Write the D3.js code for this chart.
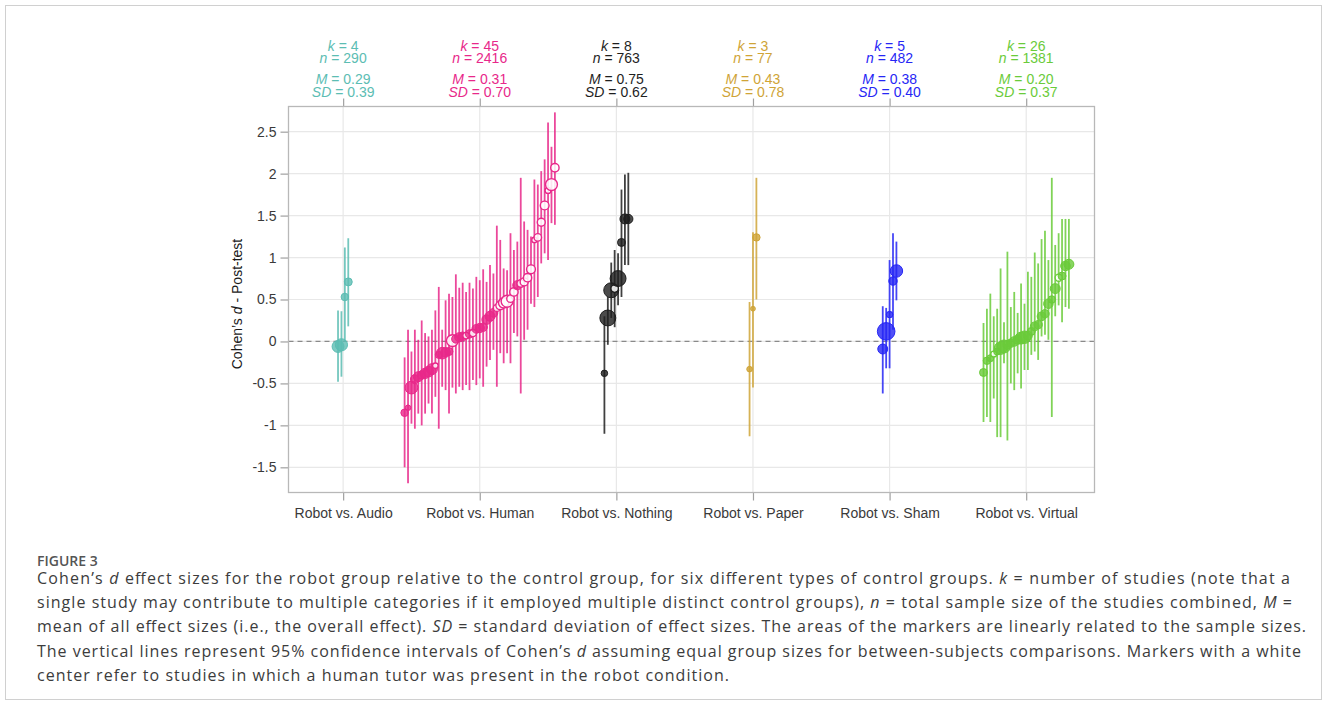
<!DOCTYPE html>
<html>
<head>
<meta charset="utf-8">
<script src="https://cdn.jsdelivr.net/npm/d3@7"></script>
<style>
    body { margin: 0; background: #fff; }
    svg text { font-family: "Liberation Sans", Arial, sans-serif; }
    .caption text { font-family: "Open Sans", sans-serif; }
</style>
</head>
<body>
<svg id="chart" width="1328" height="705"></svg>
<script>
const categories = ["Robot vs. Audio", "Robot vs. Human", "Robot vs. Nothing", "Robot vs. Paper", "Robot vs. Sham", "Robot vs. Virtual"];
const statK = [4, 45, 8, 3, 5, 26];
const statN = [290, 2416, 763, 77, 482, 1381];
const statM = ["0.29", "0.31", "0.75", "0.43", "0.38", "0.20"];
const statSD = ["0.39", "0.70", "0.62", "0.78", "0.40", "0.37"];
const yTicks = [-1.5, -1, -0.5, 0, 0.5, 1, 1.5, 2, 2.5];

// each row: cohen's d, lower CI, upper CI, sample size, human tutor present (1 = white centre)
const audio = [
    [-0.06, -0.48, 0.37, 100, 0], [-0.04, -0.42, 0.36, 105, 0], [0.53, 0.00, 1.12, 40, 0], [0.71, 0.18, 1.23, 45, 0]
];
const human = [
    [-0.85, -1.50, -0.19, 40, 0], [-0.79, -1.69, 0.14, 22, 0], [-0.55, -0.98, -0.12, 115, 0], [-0.45, -1.04, 0.14, 55, 0],
    [-0.42, -0.86, 0.02, 70, 0], [-0.40, -1.00, 0.25, 50, 0], [-0.38, -0.86, 0.10, 75, 0], [-0.36, -0.74, 0.06, 80, 0],
    [-0.33, -0.86, 0.14, 85, 0], [-0.29, -0.66, 0.37, 22, 1], [-0.16, -1.04, 0.65, 35, 0], [-0.14, -0.54, 0.14, 95, 0],
    [-0.13, -0.58, 0.49, 65, 0], [-0.12, -0.86, 0.57, 45, 0], [0.01, -0.55, 0.53, 100, 1], [0.03, -0.62, 0.80, 50, 0],
    [0.05, -0.54, 0.64, 60, 0], [0.06, -0.58, 0.70, 55, 0], [0.07, -0.52, 0.59, 30, 1], [0.09, -0.58, 0.70, 50, 0],
    [0.10, -0.46, 0.63, 35, 1], [0.15, -0.52, 0.77, 55, 0], [0.16, -0.44, 0.73, 60, 0], [0.17, -0.54, 0.86, 50, 0],
    [0.26, -0.30, 0.71, 65, 0], [0.30, -0.22, 0.91, 70, 0], [0.34, -0.10, 0.81, 55, 0], [0.40, -0.54, 1.38, 35, 1],
    [0.43, -0.14, 1.21, 55, 1], [0.46, -0.26, 0.87, 75, 1], [0.48, -0.14, 0.85, 100, 1], [0.51, -0.26, 1.29, 40, 1],
    [0.59, 0.10, 1.09, 50, 1], [0.67, 0.06, 1.19, 60, 0], [0.69, -0.62, 1.95, 40, 1], [0.71, 0.02, 1.43, 45, 1],
    [0.76, 0.14, 1.33, 50, 1], [0.86, 0.45, 1.25, 55, 1], [1.21, 0.41, 1.93, 20, 1], [1.24, 0.53, 1.87, 40, 1],
    [1.42, 0.93, 2.03, 45, 1], [1.62, 1.05, 2.17, 55, 1], [1.80, 0.97, 2.61, 25, 1], [1.87, 1.41, 2.32, 100, 1],
    [2.07, 1.39, 2.73, 50, 1]
];
const nothing = [
    [-0.38, -1.10, 0.30, 30, 0], [0.28, -0.04, 0.53, 180, 0], [0.61, 0.28, 0.94, 160, 0], [0.63, 0.17, 1.09, 40, 1],
    [0.75, 0.43, 1.05, 180, 0], [1.18, 0.53, 1.81, 45, 0], [1.46, 0.91, 1.99, 70, 0], [1.46, 0.91, 2.01, 60, 0]
];
const paper = [
    [-0.33, -1.13, 0.47, 22, 0], [0.39, -0.55, 1.30, 16, 0], [1.24, 0.50, 1.95, 39, 0]
];
const sham = [
    [-0.09, -0.62, 0.42, 70, 0], [0.12, -0.32, 0.40, 220, 0], [0.32, -0.32, 0.97, 30, 0], [0.72, 0.14, 1.29, 50, 0],
    [0.84, 0.49, 1.19, 110, 0]
];
const virtual = [
    [-0.37, -0.96, 0.22, 45, 0], [-0.23, -0.90, 0.39, 40, 0], [-0.20, -0.96, 0.57, 35, 0], [-0.15, -0.68, 0.30, 25, 1],
    [-0.12, -1.14, 0.39, 35, 0], [-0.08, -1.14, 0.87, 110, 0], [-0.06, -0.26, 0.23, 120, 0], [-0.04, -1.18, 1.07, 55, 0],
    [-0.02, -0.50, 0.41, 50, 0], [0.00, -0.58, 0.59, 65, 0], [0.02, -0.38, 0.34, 55, 0], [0.04, -0.56, 0.69, 100, 0],
    [0.05, -0.34, 0.45, 110, 0], [0.07, -0.34, 0.83, 55, 0], [0.12, -0.16, 0.77, 45, 0], [0.18, -0.12, 1.06, 55, 0],
    [0.20, -0.22, 0.93, 50, 0], [0.30, 0.06, 1.22, 55, 0], [0.33, 0.08, 1.32, 50, 0], [0.45, 0.02, 0.97, 65, 0],
    [0.50, -0.90, 1.95, 40, 0], [0.63, 0.30, 1.15, 70, 0], [0.76, 0.43, 1.29, 35, 1], [0.78, 0.23, 1.46, 45, 0],
    [0.90, 0.41, 1.46, 65, 0], [0.92, 0.39, 1.46, 70, 0]
];

const groups = [audio, human, nothing, paper, sham, virtual];
const colors = ["#5cbdb3", "#e8288a", "#1e1e1e", "#cfa437", "#2626f5", "#6acb3a"];

let margin = { left: 288.5, right: 1094.5, top: 106.5, bottom: 492.5 };
let svg = d3.select("#chart");

// outer figure frame
svg.append("rect")
    .attr("x", 5.5).attr("y", 5.5).attr("width", 1316).attr("height", 694)
    .attr("fill", "none").attr("stroke", "#d0d0d0");

let xScale = d3.scaleLinear().domain([0.6, 6.5]).range([margin.left, margin.right]);
let yScale = d3.scaleLinear().domain([-1.8, 2.8]).range([margin.bottom, margin.top]);
let rScale = d3.scaleSqrt().domain([0, 220]).range([0, 8.8]);
let catPos = categories.map((c, i) => i + 1);

// grid
let grid = svg.append("g");
grid.selectAll(".hg").data(yTicks).join("line")
    .attr("x1", margin.left).attr("x2", margin.right)
    .attr("y1", d => yScale(d)).attr("y2", d => yScale(d))
    .attr("stroke", "#e8e8e8").attr("stroke-width", 1.2);
grid.selectAll(".vg").data(catPos).join("line")
    .attr("x1", d => xScale(d)).attr("x2", d => xScale(d))
    .attr("y1", margin.top).attr("y2", margin.bottom)
    .attr("stroke", "#e8e8e8").attr("stroke-width", 1.2);

// zero reference
svg.append("line")
    .attr("x1", margin.left).attr("x2", margin.right)
    .attr("y1", yScale(0)).attr("y2", yScale(0))
    .attr("stroke", "#8a8a8a").attr("stroke-width", 1.3).attr("stroke-dasharray", "5,4");

// axes
let styleAxis = function (g) {
    g.select(".domain").remove();
    g.selectAll(".tick line").attr("stroke", "#a0a0a0").attr("stroke-width", 1.2);
    g.selectAll(".tick text").attr("fill", "#3a3a3a").attr("font-size", 14);
};
svg.append("g")
    .attr("transform", `translate(${margin.left},0)`)
    .call(d3.axisLeft(yScale).tickValues(yTicks).tickSize(8).tickPadding(4).tickFormat(d => String(d)))
    .call(styleAxis);
svg.append("g")
    .attr("transform", `translate(0,${margin.bottom})`)
    .call(d3.axisBottom(xScale).tickValues(catPos).tickSize(8).tickPadding(8).tickFormat((d, i) => categories[i]))
    .call(styleAxis);
svg.append("g")
    .attr("transform", `translate(0,${margin.top})`)
    .call(d3.axisTop(xScale).tickValues(catPos).tickSize(8).tickFormat(""))
    .call(styleAxis);

// panel border
svg.append("rect")
    .attr("x", margin.left).attr("y", margin.top)
    .attr("width", margin.right - margin.left).attr("height", margin.bottom - margin.top)
    .attr("fill", "none").attr("stroke", "#b8b8b8").attr("stroke-width", 1.3);

// header stats, two tight pairs per category
let header = svg.append("g").attr("font-size", 14).attr("text-anchor", "middle");
let statPair = function (l1, v1, l2, v2, yPos, i) {
    let t = header.append("text")
        .attr("x", xScale(i + 1)).attr("y", yPos)
        .attr("fill", colors[i]);
    t.append("tspan").attr("font-style", "italic").text(l1);
    t.append("tspan").text(" = " + v1);
    let t2 = t.append("tspan").attr("x", xScale(i + 1)).attr("dy", 12.8);
    t2.append("tspan").attr("font-style", "italic").text(l2);
    t.append("tspan").text(" = " + v2);
};
categories.forEach((c, i) => {
    let t = header.append("text").attr("y", 50.5).attr("fill", colors[i]);
    t.append("tspan").attr("x", xScale(i + 1)).attr("font-style", "italic").text("k");
    t.append("tspan").text(" = " + statK[i]);
    t.append("tspan").attr("x", xScale(i + 1)).attr("dy", 12.8).attr("font-style", "italic").text("n");
    t.append("tspan").text(" = " + statN[i]);

    let s = header.append("text").attr("y", 84.3).attr("fill", colors[i]);
    s.append("tspan").attr("x", xScale(i + 1)).attr("font-style", "italic").text("M");
    s.append("tspan").text(" = " + statM[i]);
    s.append("tspan").attr("x", xScale(i + 1)).attr("dy", 12.4).attr("font-style", "italic").text("SD");
    s.append("tspan").text(" = " + statSD[i]);
});

// y title
let yTitle = svg.append("text")
    .attr("transform", "translate(242,304) rotate(-90)")
    .attr("text-anchor", "middle").attr("font-size", 14).attr("fill", "#1a1a1a");
yTitle.append("tspan").text("Cohen\u2019s ");
yTitle.append("tspan").attr("font-style", "italic").text("d");
yTitle.append("tspan").text(" - Post-test");

// studies
let step = 0.025;
groups.forEach((rows, g) => {
    let k = rows.length;
    let pts = rows.map((r, j) => ({
        x: g + 1 + (j - (k - 1) / 2) * step,
        d: r[0], lo: r[1], hi: r[2], n: r[3], tutor: r[4]
    }));
    let body = svg.append("g");
    body.selectAll("line").data(pts).join("line")
        .attr("x1", p => xScale(p.x)).attr("x2", p => xScale(p.x))
        .attr("y1", p => yScale(p.lo)).attr("y2", p => yScale(p.hi))
        .attr("stroke", colors[g]).attr("stroke-width", 1.8).attr("stroke-opacity", 0.85);
    body.selectAll("circle").data(pts).join("circle")
        .attr("cx", p => xScale(p.x)).attr("cy", p => yScale(p.d))
        .attr("r", p => rScale(p.n))
        .attr("fill", p => p.tutor ? "#ffffff" : colors[g])
        .attr("fill-opacity", p => p.tutor ? 0.85 : 0.8)
        .attr("stroke", colors[g]).attr("stroke-width", p => p.tutor ? 1.4 : 1);
});

// caption
let caption = svg.append("g").attr("class", "caption");
caption.append("text")
    .attr("x", 37).attr("y", 566).attr("font-size", 14).attr("font-weight", 600)
    .attr("fill", "#555").text("FIGURE 3");

const captionLines = [
    [["Cohen\u2019s ", 0], ["d", 1], [" effect sizes for the robot group relative to the control group, for six different types of control groups. ", 0], ["k", 1], [" = number of studies (note that a", 0]],
    [["single study may contribute to multiple categories if it employed multiple distinct control groups), ", 0], ["n", 1], [" = total sample size of the studies combined, ", 0], ["M", 1], [" =", 0]],
    [["mean of all effect sizes (i.e., the overall effect). ", 0], ["SD", 1], [" = standard deviation of effect sizes. The areas of the markers are linearly related to the sample sizes.", 0]],
    [["The vertical lines represent 95% confidence intervals of Cohen\u2019s ", 0], ["d", 1], [" assuming equal group sizes for between-subjects comparisons. Markers with a white", 0]],
    [["center refer to studies in which a human tutor was present in the robot condition.", 0]]
];
const captionWidths = [1253, 1255, 1269, 1264, 692];
captionLines.forEach((parts, i) => {
    let t = caption.append("text")
        .attr("x", 37).attr("y", 584 + i * 24.2)
        .attr("font-size", 16).attr("fill", "#3c3c3c")
        .attr("textLength", captionWidths[i]).attr("lengthAdjust", "spacing");
    parts.forEach(p => {
        t.append("tspan").attr("font-style", p[1] ? "italic" : null).text(p[0]);
    });
});
</script>
</body>
</html>
